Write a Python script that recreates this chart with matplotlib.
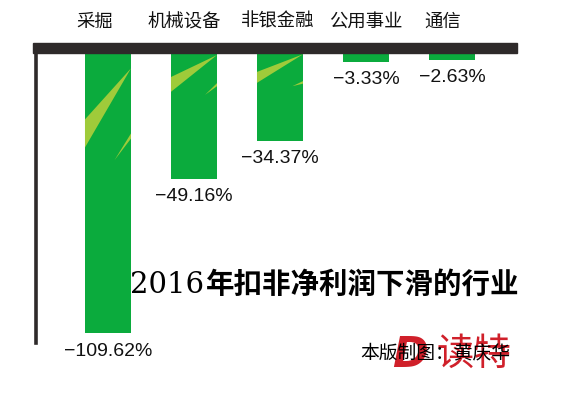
import matplotlib
matplotlib.use("Agg")
import matplotlib.pyplot as plt
from matplotlib.patches import Rectangle, Polygon

# industries whose 2016 non-recurring-adjusted net profit fell
industries = ["采掘", "机械设备", "非银金融", "公用事业", "通信"]
changes = [-109.62, -49.16, -34.37, -3.33, -2.63]
value_labels = ["−109.62%", "−49.16%", "−34.37%", "−3.33%", "−2.63%"]

title_year = "2016"
title_rest = "年扣非净利润下滑的行业"
credit = "本版制图：黄庆华"

green = "#0bab3d"
streak = "#9fcb3a"
dark = "#2e2a2a"

W, H = 566, 394
fig = plt.figure(figsize=(W / 100, H / 100), dpi=100)

# axes placed in pixel terms: left 36, right 517, top 53, 2.554 px per unit
ymin = -120
px_per = 2.554
ax_bottom = 53 + (-ymin) * px_per
ax = fig.add_axes([36 / W, 1 - ax_bottom / H, (517 - 36) / W, (ax_bottom - 53) / H])
ax.set_xlim(-0.837, 4.756)
ax.set_ylim(ymin, 0)

x = list(range(len(industries)))
bw = 0.535
bars = ax.bar(x, changes, width=bw, color=green, zorder=2)

# light streaks on the first three bars (fraction of bar width, value)
streaks = {
    0: [[(0, -26), (0, -37), (1, -6)], [(0.64, -42), (1, -31.5), (1, -33.5)]],
    1: [[(0, -9.4), (0, -15.2), (1, -0.8)], [(0.74, -16.4), (1, -11.8), (1, -13)]],
    2: [[(0, -7.4), (0, -11.7), (1, -0.5)], [(0.77, -13), (1, -11), (1, -12)]],
}
for i, shapes in streaks.items():
    x0 = x[i] - bw / 2
    for pts in shapes:
        poly = [(x0 + fx * bw, v) for fx, v in pts]
        ax.add_patch(Polygon(poly, closed=True, color=streak, lw=0, zorder=3))

for b, lab in zip(bars, value_labels):
    ax.annotate(lab, (b.get_x() + b.get_width() / 2, b.get_height()),
                xytext=(0, -13), textcoords="offset points",
                ha="center", va="center", fontsize=14,
                family=["Liberation Sans", "DejaVu Sans"], color="#111111")

for s in ["top", "right", "bottom"]:
    ax.spines[s].set_visible(False)
ax.spines["left"].set_color(dark)
ax.spines["left"].set_linewidth(2.6)
ax.spines["left"].set_bounds(-113.6, 0)
ax.set_xticks([])
ax.set_yticks([])

# dark header band
fig.patches.append(Rectangle((33 / W, 1 - 53 / H), (517 - 33) / W, 10 / H,
                             transform=fig.transFigure, color=dark, zorder=5))

label_x = [95, 184, 278, 366, 443]
for name, px in zip(industries, label_x):
    fig.text(px / W, 1 - 22 / H, name, ha="center", va="center", fontsize=13.2,
             family=["Noto Sans CJK SC"], color="#111111")

fig.text(130 / W, 1 - 285 / H, title_year, ha="left", va="center", fontsize=21,
         family=["DejaVu Serif"], color="black")
fig.text(206 / W, 1 - 285 / H, title_rest, ha="left", va="center", fontsize=20.5,
         fontweight="bold", family=["Noto Sans CJK SC"], color="black")

# red logo behind the credit line
fig.text(392 / W, 1 - 355 / H, "D", ha="left", va="center", fontsize=31,
         fontweight="bold", fontstyle="italic", family=["DejaVu Sans"], color="#d0202a", zorder=1)
fig.text(437 / W, 1 - 354 / H, "读特", ha="left", va="center", fontsize=27,
         family=["Noto Sans CJK SC"], color="#d0202a", zorder=1)
fig.text(360 / W, 1 - 353 / H, credit, ha="left", va="center", fontsize=13.5,
         family=["Noto Sans CJK SC"], color="black", zorder=2)

fig.savefig("out.png", dpi=100, facecolor="white")
